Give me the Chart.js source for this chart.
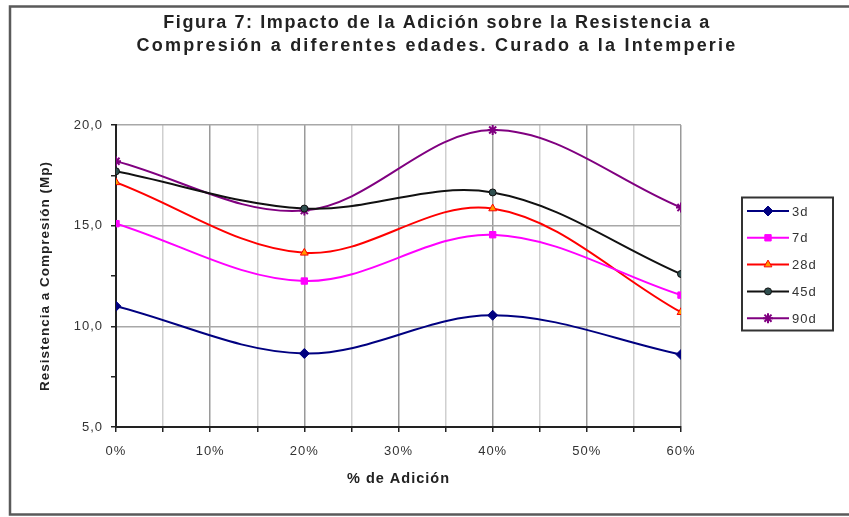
<!DOCTYPE html>
<html>
<head>
<meta charset="utf-8">
<script src="https://cdn.jsdelivr.net/npm/chart.js@4.4.0/dist/chart.umd.min.js"></script>
<style>
  html, body { margin: 0; padding: 0; background: #fff; }
  canvas { display: block; }
</style>
</head>
<body>
<canvas id="grafico" width="849" height="517"></canvas>
<script>
// % de adición (eje X)
const adicion = [0, 20, 40, 60];

// Resistencia a compresión (Mp) por edad de ensayo
const edad3d  = [11.0, 8.65, 10.55, 8.6];
const edad7d  = [15.1, 12.25, 14.55, 11.55];
const edad28d = [17.15, 13.65, 15.85, 10.7];
const edad45d = [17.7, 15.85, 16.65, 12.6];
const edad90d = [18.2, 15.75, 19.75, 15.9];

const nombresSeries = ['3d', '7d', '28d', '45d', '90d'];

// Ejes
const yMin = 5, yMax = 20, yPaso = 2.5, yEtiquetaCada = 5;
const xMin = 0, xMax = 60, xPaso = 5, xEtiquetaCada = 10;

const titulo = [
  'Figura 7: Impacto de la Adición sobre la Resistencia a',
  'Compresión a diferentes edades. Curado a la Intemperie'
];
const tituloEjeX = '% de Adición';
const tituloEjeY = 'Resistencia a Compresión (Mp)';

const FUENTE = '"Liberation Sans", Arial, sans-serif';

const estilos = [
  { borde: '#000080', relleno: '#000080', forma: 'rectRot',  radio: 5 },
  { borde: '#ff00ff', relleno: '#ff00ff', forma: 'rect',     radio: 4.5 },
  { borde: '#ff0000', relleno: '#ff9900', forma: 'triangle', radio: 4.5 },
  { borde: '#111111', relleno: '#2f4f4f', forma: 'circle',   radio: 3.5 },
  { borde: '#800080', relleno: '#800080', forma: 'star',     radio: 5 }
];

const valores = [edad3d, edad7d, edad28d, edad45d, edad90d];

const datasets = valores.map((serie, i) => ({
  label: nombresSeries[i],
  data: adicion.map((x, j) => ({ x: x, y: serie[j] })),
  borderColor: estilos[i].borde,
  backgroundColor: estilos[i].relleno,
  pointBackgroundColor: estilos[i].relleno,
  pointBorderColor: estilos[i].borde,
  pointStyle: estilos[i].forma,
  pointRadius: estilos[i].radio,
  pointBorderWidth: i === 4 ? 2 : 1,
  borderWidth: 2,
  tension: 0.35,
  fill: false
}));

const fmtY = v => v.toFixed(1).replace('.', ',');

// Fondo, marco exterior y espaciado de letras
const marco = {
  id: 'marco',
  beforeDraw(chart) {
    const ctx = chart.ctx;
    ctx.save();
    ctx.fillStyle = '#ffffff';
    ctx.fillRect(0, 0, chart.width, chart.height);
    ctx.strokeStyle = '#5a5a5a';
    ctx.lineWidth = 2.5;
    ctx.strokeRect(10, 6.5, 860, 508);
    ctx.restore();
    ctx.letterSpacing = '1px';
  }
};

// Título en dos líneas y leyenda con recuadro
const decoracion = {
  id: 'decoracion',
  afterDraw(chart) {
    const ctx = chart.ctx;
    ctx.save();
    ctx.font = 'bold 18px ' + FUENTE;
    ctx.fillStyle = '#222222';
    ctx.textAlign = 'center';
    ctx.textBaseline = 'middle';
    ctx.letterSpacing = '1.6px';
    ctx.fillText(titulo[0], 437, 23);
    ctx.letterSpacing = '2.2px';
    ctx.fillText(titulo[1], 437, 46);

    // Leyenda
    ctx.strokeStyle = '#333333';
    ctx.lineWidth = 2;
    ctx.strokeRect(742, 197.5, 91, 133);
    ctx.letterSpacing = '1px';
    ctx.font = '13px ' + FUENTE;
    ctx.textAlign = 'left';
    chart.data.datasets.forEach((ds, i) => {
      const y = 211 + i * 26.8;
      ctx.strokeStyle = ds.borderColor;
      ctx.lineWidth = 2;
      ctx.beginPath();
      ctx.moveTo(747, y);
      ctx.lineTo(789, y);
      ctx.stroke();
      ctx.fillStyle = ds.pointBackgroundColor;
      ctx.strokeStyle = ds.pointBorderColor;
      ctx.lineWidth = ds.pointBorderWidth;
      Chart.helpers.drawPoint(ctx, {
        pointStyle: ds.pointStyle, rotation: 0,
        radius: ds.pointRadius, borderWidth: ds.pointBorderWidth
      }, 768, y);
      ctx.fillStyle = '#333333';
      ctx.fillText(ds.label, 792, y + 1);
    });
    ctx.restore();
  }
};

new Chart(document.getElementById('grafico'), {
  type: 'line',
  data: { datasets: datasets },
  options: {
    responsive: false,
    animation: false,
    devicePixelRatio: 1,
    layout: { padding: { left: 0, top: 125, right: 168, bottom: 28 } },
    plugins: {
      legend: { display: false },
      title: { display: false },
      tooltip: { enabled: false }
    },
    scales: {
      x: {
        type: 'linear',
        min: xMin, max: xMax,
        afterFit(s) { s.height = 62; },
        ticks: {
          stepSize: xPaso,
          autoSkip: false,
          maxRotation: 0,
          padding: 12,
          color: '#333333',
          font: { family: FUENTE, size: 13 },
          callback: v => (v % xEtiquetaCada === 0 ? v + '%' : '')
        },
        grid: {
          color: c => (c.tick && c.tick.value % xEtiquetaCada === 0 ? '#9a9a9a' : '#cfcfcf'),
          lineWidth: 1.5,
          tickLength: 5,
          tickColor: '#222222'
        },
        border: { color: '#222222', width: 2 },
        title: {
          display: true,
          text: tituloEjeX,
          color: '#222222',
          font: { family: FUENTE, size: 14.5, weight: 'bold' },
          padding: { top: 0, bottom: 1 }
        }
      },
      y: {
        min: yMin, max: yMax,
        afterFit(s) { s.width = 116; },
        ticks: {
          stepSize: yPaso,
          autoSkip: false,
          padding: 8,
          color: '#333333',
          font: { family: FUENTE, size: 13 },
          callback: v => (v % yEtiquetaCada === 0 ? fmtY(v) : '')
        },
        grid: {
          color: c => (c.tick && c.tick.value % yEtiquetaCada === 0 ? '#a8a8a8' : 'rgba(0,0,0,0)'),
          lineWidth: 1.5,
          tickLength: 5,
          tickColor: '#222222'
        },
        border: { color: '#222222', width: 2 },
        title: {
          display: true,
          text: tituloEjeY,
          color: '#222222',
          font: { family: FUENTE, size: 13.5, weight: 'bold' },
          padding: { top: 37, bottom: 0 }
        }
      }
    }
  },
  plugins: [marco, decoracion]
});
</script>
</body>
</html>
